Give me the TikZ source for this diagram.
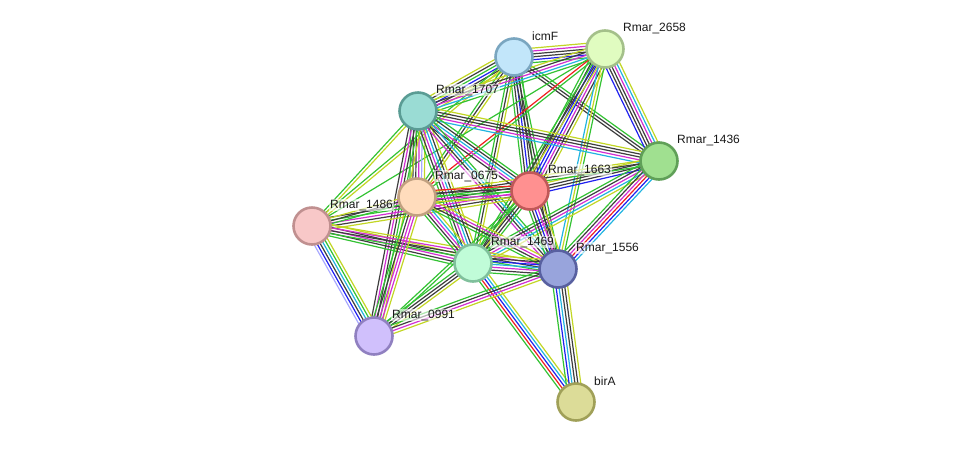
\documentclass[tikz,border=0pt]{standalone}
\usepackage{fontspec}
\setmainfont{Liberation Sans}
\usetikzlibrary{calc}
\pgfdeclarelayer{background}
\pgfsetlayers{background,main}
\definecolor{tg}{HTML}{33C233}
\definecolor{tr}{HTML}{F02020}
\definecolor{tb}{HTML}{2020F0}
\definecolor{tc}{HTML}{22B4E0}
\definecolor{tm}{HTML}{D22ED2}
\definecolor{ty}{HTML}{C2D624}
\definecolor{tk}{HTML}{3E3E3E}
\definecolor{th}{HTML}{A8A8FF}
\newcommand\sedge[3]{%
  \def\clist{#3}%
  \foreach \cc [count=\ii] in \clist {\xdef\nedge{\ii}}%
  \foreach \cc [count=\ii] in \clist {%
    \pgfmathsetmacro\off{(\ii-(\nedge+1)/2)*2.9}%
    \draw[\cc] ($(#1.center)!\off pt!90:(#2.center)$) -- ($(#2.center)!\off pt!-90:(#1.center)$);
  }%
}
\tikzset{
  gn/.style={circle, minimum size=37pt, inner sep=0pt, line width=2.6pt},
  lab/.style={anchor=west, inner sep=1pt, font=\fontsize{12}{14}\selectfont, text=black!90,
     fill=white, fill opacity=0.6, text opacity=1},
}
\begin{document}
\begin{tikzpicture}[x=1pt,y=-1pt]
\useasboundingbox (0,0) rectangle (976,448);
\node[gn, fill={rgb,255:red,194;green,230;blue,250}, draw={rgb,255:red,122;green,166;blue,192}] (nicmF) at (514,57) {};
\node[gn, fill={rgb,255:red,224;green,252;blue,192}, draw={rgb,255:red,164;green,192;blue,138}] (n2658) at (605,49) {};
\node[gn, fill={rgb,255:red,154;green,220;blue,212}, draw={rgb,255:red,90;green,156;blue,148}] (n1707) at (418,111) {};
\node[gn, fill={rgb,255:red,160;green,224;blue,144}, draw={rgb,255:red,96;green,160;blue,88}] (n1436) at (659,161) {};
\node[gn, fill={rgb,255:red,255;green,144;blue,144}, draw={rgb,255:red,192;green,88;blue,88}] (n1663) at (530,191) {};
\node[gn, fill={rgb,255:red,255;green,220;blue,188}, draw={rgb,255:red,192;green,160;blue,128}] (n0675) at (417,197) {};
\node[gn, fill={rgb,255:red,248;green,200;blue,200}, draw={rgb,255:red,192;green,144;blue,144}] (n1486) at (312,226) {};
\node[gn, fill={rgb,255:red,192;green,252;blue,216}, draw={rgb,255:red,128;green,192;blue,156}] (n1469) at (473,263) {};
\node[gn, fill={rgb,255:red,152;green,164;blue,220}, draw={rgb,255:red,88;green,96;blue,160}] (n1556) at (558,269) {};
\node[gn, fill={rgb,255:red,208;green,192;blue,252}, draw={rgb,255:red,144;green,128;blue,192}] (n0991) at (374,336) {};
\node[gn, fill={rgb,255:red,220;green,220;blue,152}, draw={rgb,255:red,160;green,160;blue,88}] (nbirA) at (576,402) {};

\node[lab] (licmF) at ($(nicmF)+(17,-21)$) {icmF};
\node[lab] (l2658) at ($(n2658)+(17,-21)$) {Rmar\_2658};
\node[lab] (l1707) at ($(n1707)+(17,-21)$) {Rmar\_1707};
\node[lab] (l1436) at ($(n1436)+(17,-21)$) {Rmar\_1436};
\node[lab] (l1663) at ($(n1663)+(17,-21)$) {Rmar\_1663};
\node[lab] (l0675) at ($(n0675)+(17,-21)$) {Rmar\_0675};
\node[lab] (l1486) at ($(n1486)+(17,-21)$) {Rmar\_1486};
\node[lab] (l1469) at ($(n1469)+(17,-21)$) {Rmar\_1469};
\node[lab] (l1556) at ($(n1556)+(17,-21)$) {Rmar\_1556};
\node[lab] (l0991) at ($(n0991)+(17,-21)$) {Rmar\_0991};
\node[lab] (lbirA) at ($(nbirA)+(17,-21)$) {birA};

\begin{pgfonlayer}{background}
\begin{scope}[line width=1.2pt]
\sedge{nicmF}{n2658}{tg,tb,tk,tk,tm,ty}
\sedge{nicmF}{n1707}{ty,tk,tg,tb,tk,ty}
\sedge{nicmF}{n1436}{tk,tk,tg}
\sedge{nicmF}{n1663}{tg,tk,tb,tk,tg}
\sedge{nicmF}{n0675}{tg,tk,ty}
\sedge{nicmF}{n1469}{tg,tk,ty}
\sedge{nicmF}{n1486}{tg,ty}
\sedge{nicmF}{n1556}{tk,tk,tg}
\sedge{n2658}{n1707}{ty,tk,tm,tc,tg}
\sedge{n2658}{n1436}{tb,tk,tk,tm,tc,ty}
\sedge{n2658}{n1663}{tg,tk,tb,tb,tm,tk,ty}
\sedge{n2658}{n0675}{tr,tg}
\sedge{n2658}{n1469}{tg,tk,ty}
\sedge{n2658}{n1556}{tc,ty,tg}
\sedge{n2658}{n1486}{tg}
\sedge{n1707}{n1436}{tc,tm,tk,tk,ty}
\sedge{n1707}{n1663}{tk,tm,tc,tk,tg}
\sedge{n1707}{n0675}{tg,tk,tk,tm,th,ty}
\sedge{n1707}{n1486}{tg,ty}
\sedge{n1707}{n1469}{tg,tk,tm,tc,tk,ty}
\sedge{n1707}{n1556}{tm,tk,tc,tg}
\sedge{n1707}{n0991}{tk,tm,tk,tg,ty}
\sedge{n1436}{n1663}{ty,tk,tk,tb}
\sedge{n1436}{n0675}{ty,tk,tg}
\sedge{n1436}{n1469}{tg,tk,tm,tc,ty}
\sedge{n1436}{n1556}{tg,tk,tm,tr,tb,tc}
\sedge{n1663}{n1486}{tk,tg,tm,tk,ty}
\sedge{n1663}{n0675}{tr,tk,tg,tm,ty}
\sedge{n1663}{n1469}{tg,tk,tk,tg}
\sedge{n1663}{n1556}{tg,tk,tb,tm,tk,ty}
\sedge{n1663}{n0991}{tg,tg}
\sedge{n1486}{n0675}{tg,tk,ty}
\sedge{n1486}{n1469}{tg,tk,tm,tk,ty}
\sedge{n1486}{n1556}{tg,tk,tm,ty}
\sedge{n1486}{n0991}{th,tb,tk,tc,tg,ty}
\sedge{n0675}{n1469}{tg,tk,tm,tc,ty}
\sedge{n0675}{n1556}{tg,tk,tm,ty}
\sedge{n0675}{n0991}{tg,tk,tm,tm,ty}
\sedge{n1469}{n1556}{tg,tk,tm,tc,tb,tk,ty}
\sedge{n1469}{n0991}{tg,tk,tk,ty}
\sedge{n1469}{nbirA}{tg,tr,tb,tc,ty}
\sedge{n1556}{n0991}{tg,tk,tm,ty}
\sedge{n1556}{nbirA}{tg,tb,tc,tk,tk,ty}
\end{scope}
\end{pgfonlayer}
\end{tikzpicture}
\end{document}
